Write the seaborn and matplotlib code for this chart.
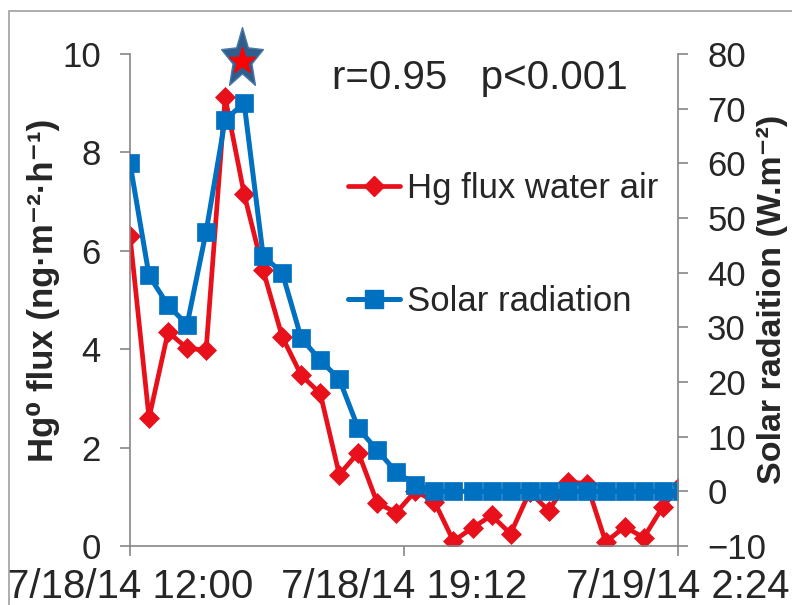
import matplotlib
matplotlib.use("Agg")
import matplotlib.pyplot as plt
import matplotlib.path as mpath
from matplotlib.lines import Line2D
from matplotlib.patches import Rectangle
import seaborn as sns
import numpy as np
import pandas as pd

# ---- data (hours after 7/18/14 12:00) ----
hours = [0, 0.5, 1, 1.5, 2, 2.5, 3, 3.5, 4, 4.5, 5, 5.5, 6, 6.5, 7, 7.5, 8, 8.5,
         9, 9.5, 10, 10.5, 11, 11.5, 12, 12.5, 13, 13.5, 14, 14.5]
hg_flux = [6.3, 2.6, 4.35, 4.02, 3.98, 9.12, 7.15, 5.6, 4.25, 3.47, 3.1, 1.45,
           1.9, 0.87, 0.68, 1.12, 0.9, 0.1, 0.37, 0.62, 0.25, 1.1, 0.72, 1.3,
           1.27, 0.08, 0.39, 0.17, 0.8, 1.26]
solar = [60, 39.5, 34, 30.5, 47.5, 68, 71, 43, 40, 28, 24, 20.5, 11.5, 7.5, 3.5,
         1.2, 0, 0, 0, 0, 0, 0, 0, 0, 0, 0, 0, 0, 0, 0]
xtick_pos = [0, 7.2, 14.4]
xtick_labels = ["7/18/14 12:00", "7/18/14 19:12", "7/19/14 2:24"]
star_x, star_y = 2.95, 9.94
annotation = "r=0.95   p<0.001"
series_labels = ["Hg flux water air", "Solar radiation"]

df = pd.DataFrame({"hours": hours, "flux": hg_flux, "solar": solar})

RED = "#E8101A"
BLUE = "#0070C0"
GRAY = "#868686"

sns.set_theme(style="white")
plt.rcParams["font.family"] = ["Liberation Sans", "DejaVu Sans"]

W, H = 792, 605
fig = plt.figure(figsize=(W / 100, H / 100), dpi=100)
L, R, T, B = 130, 678, 54, 546
ax = fig.add_axes([L / W, 1 - B / H, (R - L) / W, (B - T) / H])
ax2 = ax.twinx()

sns.lineplot(data=df, x="hours", y="flux", ax=ax, color=RED, linewidth=3.4,
             marker="D", markersize=10, markeredgecolor=RED, markeredgewidth=0.5,
             legend=False, sort=False, estimator=None)
sns.lineplot(data=df, x="hours", y="solar", ax=ax2, color=BLUE, linewidth=3.6,
             marker="s", markersize=13, markeredgecolor=BLUE, markeredgewidth=0.5,
             legend=False, sort=False, estimator=None)

# star annotation
star = mpath.Path.unit_regular_star(5, 0.45)
verts = star.vertices.copy()
verts[:, 1] *= 1.45
star_tall = mpath.Path(verts, star.codes)
ax2.plot([star_x], [star_y * 9 - 10 - 0.3], marker=star_tall, markersize=46,
         color="#2F5D8C", markeredgecolor="#4A78A8", markeredgewidth=1,
         clip_on=False, zorder=10)
ax2.plot([star_x], [star_y * 9 - 10 - 0.7], marker="*", markersize=20,
         color="#FF0000", markeredgecolor="#FF0000", clip_on=False, zorder=11)

ax.set_xlim(0, 14.4)
ax.set_ylim(0, 10)
ax2.set_ylim(-10, 80)
ax.set_yticks([0, 2, 4, 6, 8, 10])
ax2.set_yticks(list(range(-10, 81, 10)))
ax.set_xticks(xtick_pos)
ax.set_xticklabels(xtick_labels)

for a in (ax, ax2):
    a.spines["top"].set_visible(False)
    for s in ("left", "right", "bottom"):
        a.spines[s].set_color(GRAY)
        a.spines[s].set_linewidth(1.2)
    a.grid(False)
ax.spines["right"].set_visible(False)
ax2.spines["left"].set_visible(False)
ax2.spines["bottom"].set_visible(False)

ax.tick_params(axis="y", direction="out", length=7, width=1.2, color=GRAY,
               labelsize=25, pad=14, left=True)
ax.tick_params(axis="x", direction="out", length=7, width=1.2, color=GRAY,
               labelsize=29, pad=9, bottom=True)
ax2.tick_params(axis="y", direction="out", length=7, width=1.2, color=GRAY,
                labelsize=25, pad=14, right=True)

ax.set_xlabel("")
ax.set_ylabel("Hg⁰ flux (ng·m⁻²·h⁻¹)", fontsize=25, fontweight="bold")
ax2.set_ylabel("Solar radaition (W.m⁻²)", fontsize=24.5, fontweight="bold")
ax.yaxis.set_label_coords((60 - L) / (R - L), (B - 290) / (B - T))
ax2.yaxis.set_label_coords((757 - L) / (R - L), (B - 299) / (B - T))

fig.text(480 / W, 1 - 78 / H, annotation, fontsize=29, ha="center", va="center")

handles = [Line2D([], [], color=RED, lw=3.4, marker="D", markersize=10),
           Line2D([], [], color=BLUE, lw=3.6, marker="s", markersize=13)]
fig.legend(handles, series_labels, loc="upper left",
           bbox_to_anchor=(348 / W, 1 - 172 / H), bbox_transform=fig.transFigure,
           frameon=False, fontsize=25, handlelength=1.5, handletextpad=0.2,
           labelspacing=2.3, borderpad=0, borderaxespad=0)

# outer chart frame
fig.patches.append(Rectangle((9 / W, -0.5), 2.0, 1.5 - 11 / H,
                             transform=fig.transFigure, fill=False,
                             edgecolor="#A0A0A0", linewidth=1.2))

fig.savefig("out.png", dpi=100)
